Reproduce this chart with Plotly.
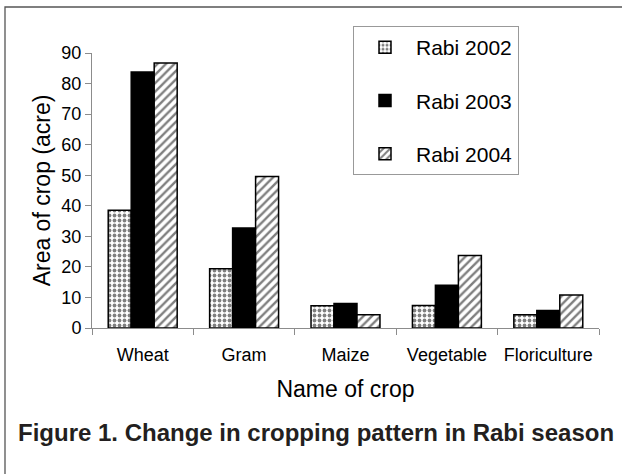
import plotly.graph_objects as go

crops = ["Wheat", "Gram", "Maize", "Vegetable", "Floriculture"]
rabi_2002 = [38.5, 19.4, 7.3, 7.4, 4.3]
rabi_2003 = [83.8, 32.7, 8.0, 14.0, 5.7]
rabi_2004 = [86.7, 49.6, 4.3, 23.7, 10.8]
y_ticks = [0, 10, 20, 30, 40, 50, 60, 70, 80, 90]

FONT = "Arial, 'Liberation Sans', Helvetica, sans-serif"

fig = go.Figure()
fig.add_trace(go.Bar(
    name="Rabi 2002", x=crops, y=rabi_2002, legendgroup="a",
    marker=dict(color="white", line=dict(color="black", width=1.5),
                pattern=dict(shape=".", fgcolor="black", bgcolor="white",
                             size=5, solidity=0.45)),
))
fig.add_trace(go.Bar(
    name="Rabi 2003", x=crops, y=rabi_2003, legendgroup="b",
    marker=dict(color="black", line=dict(color="black", width=1.5)),
))
fig.add_trace(go.Bar(
    name="Rabi 2004", x=crops, y=rabi_2004, legendgroup="c",
    marker=dict(color="white", line=dict(color="black", width=1.5),
                pattern=dict(shape="/", fgcolor="black", bgcolor="white",
                             size=6, solidity=0.4)),
))

W, H = 622, 474
L, R, T, B = 92, 23, 53, 146
pw, ph = W - L - R, H - T - B

def px_x(x):
    return (x - L) / pw

def px_y(y):
    return (H - B - y) / ph

fig.update_layout(
    width=W, height=H,
    margin=dict(l=L, r=R, t=T, b=B, pad=0),
    paper_bgcolor="white", plot_bgcolor="white",
    font=dict(family=FONT, color="black", size=18),
    barmode="group", bargap=0.32, bargroupgap=0,
    showlegend=True,
    legend=dict(
        x=px_x(353), y=px_y(26), xanchor="left", yanchor="top",
        bgcolor="white", bordercolor="#999999", borderwidth=1,
        font=dict(size=21, family=FONT, color="black"),
        traceorder="grouped", tracegroupgap=23,
        itemwidth=52,
    ),
    xaxis=dict(
        showline=True, linecolor="#8c8c8c", linewidth=1,
        ticks="outside", tickson="boundaries", ticklen=6, tickcolor="#8c8c8c",
        tickfont=dict(size=18), ticklabelstandoff=10,
        showgrid=False, zeroline=False,
        title=dict(text="Name of crop", font=dict(size=23), standoff=17),
    ),
    yaxis=dict(
        range=[0, 90], tickvals=y_ticks,
        showline=True, linecolor="#8c8c8c", linewidth=1,
        ticks="outside", ticklen=6, tickcolor="#8c8c8c",
        tickfont=dict(size=18),
        showgrid=False, zeroline=False,
        title=dict(text="Area of crop (acre)", font=dict(size=23), standoff=4),
    ),
    shapes=[dict(
        type="rect", xref="paper", yref="paper",
        x0=px_x(5), x1=px_x(640), y0=px_y(490), y1=px_y(7),
        line=dict(color="#555555", width=1.3), fillcolor="rgba(0,0,0,0)",
        layer="below",
    )],
    annotations=[dict(
        text="<b>Figure 1. Change in cropping pattern in Rabi season</b>",
        xref="paper", yref="paper", x=px_x(315.5), y=px_y(432),
        xanchor="center", yanchor="middle", showarrow=False,
        font=dict(size=24, family=FONT, color="#231f20"),
    )],
)

fig.write_html(
    "out.html",
    config={"displayModeBar": False},
    post_script="document.body.style.margin='0';document.body.style.overflow='hidden';",
)
